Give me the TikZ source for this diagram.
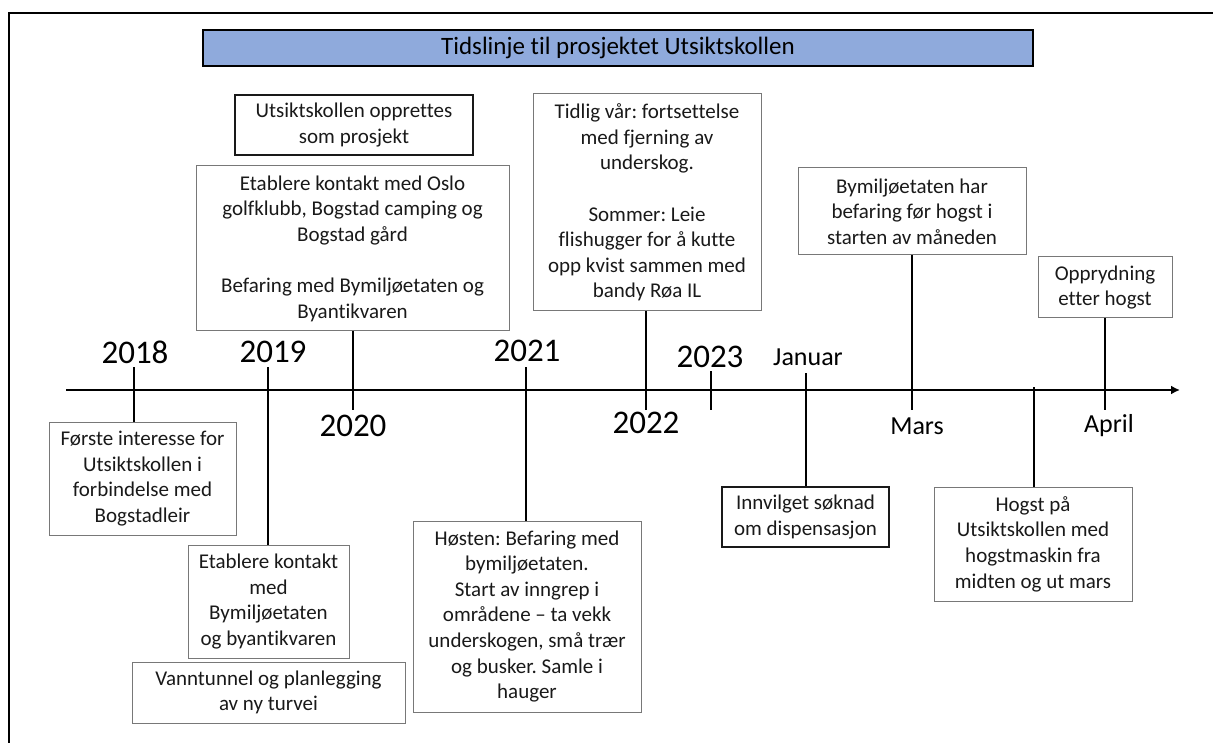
\documentclass[tikz,border=0pt]{standalone}
\usepackage{fontspec}
\setmainfont{Carlito}[Ligatures=NoCommon]
\frenchspacing
\usetikzlibrary{arrows.meta}
\definecolor{titleblue}{RGB}{143,170,220}
\definecolor{boxgray}{RGB}{120,120,120}
\tikzset{
  evbox/.style={draw=boxgray, line width=1pt, align=center, text=black!90, inner sep=0pt,
    font=\fontsize{21}{25.6}\selectfont},
  evboxdark/.style={evbox, draw=black!90, line width=1.5pt},
  yearlabel/.style={inner sep=1pt, font=\fontsize{33}{36}\selectfont},
  monthlabel/.style={inner sep=1pt, font=\fontsize{26}{30}\selectfont},
  tick/.style={line width=2.3pt}
}
\begin{document}
\begin{tikzpicture}[x=1pt, y=-1pt]
\useasboundingbox (0,0) rectangle (1213,743);
\draw[line width=2pt] (9,743) -- (9,13) -- (1213,13);
\node[draw=black, line width=1.5pt, fill=titleblue, minimum width=830pt, minimum height=36pt,
  font=\fontsize{25}{28}\selectfont] (title) at (618,48) {Tidslinje til prosjektet Utsiktskollen};

\coordinate (ax0) at (66,390);
\coordinate (ax1) at (1180,390);
\draw[line width=2.5pt, -{Latex[length=9pt,width=9pt]}] (ax0) -- (ax1);
\coordinate (up) at (0,367);
\coordinate (down) at (0,410);

\node[yearlabel] (y2018) at (135,352) {2018};
\node[yearlabel] (y2019) at (273,352) {2019};
\node[yearlabel] (y2020) at (353,426) {2020};
\node[yearlabel] (y2021) at (527,351) {2021};
\node[yearlabel] (y2022) at (646,423) {2022};
\node[yearlabel] (y2023) at (710,357) {2023};
\node[monthlabel] (januar) at (808,357) {Januar};
\node[monthlabel] (mars) at (917,426) {Mars};
\node[monthlabel] (april) at (1109,426) {April};

\node[evbox, minimum width=187pt, minimum height=113pt] (first) at (142.5,478.5)
  {Første interesse for\\Utsiktskollen i\\forbindelse med\\Bogstadleir};
\node[evbox, minimum width=161pt, minimum height=113pt] (contact19) at (268.5,601.5)
  {Etablere kontakt\\med\\Bymiljøetaten\\og byantikvaren};
\node[evbox, minimum width=273pt, minimum height=61pt] (tunnel) at (268.5,692.5)
  {Vanntunnel og planlegging\\av ny turvei};
\node[evboxdark, minimum width=238pt, minimum height=60pt] (project) at (354,125)
  {Utsiktskollen opprettes\\som prosjekt};
\node[evbox, minimum width=313pt, minimum height=165pt] (contact20) at (352.5,248.5)
  {Etablere kontakt med Oslo\\golfklubb, Bogstad camping og\\Bogstad gård\\[25.6pt]Befaring med Bymiljøetaten og\\Byantikvaren};
\node[evbox, minimum width=228pt, minimum height=191pt] (autumn) at (527,616.5)
  {Høsten: Befaring med\\bymiljøetaten.\\Start av inngrep i\\områdene – ta vekk\\underskogen, små trær\\og busker. Samle i\\hauger};
\node[evbox, minimum width=228pt, minimum height=217pt] (spring) at (647,202.5)
  {Tidlig vår: fortsettelse\\med fjerning av\\underskog.\\[25.6pt]Sommer: Leie\\flishugger for å kutte\\opp kvist sammen med\\bandy Røa IL};
\node[evboxdark, minimum width=167pt, minimum height=60pt] (permit) at (805.5,517)
  {Innvilget søknad\\om dispensasjon};
\node[evbox, minimum width=228pt, minimum height=87pt] (inspect) at (912,211.5)
  {Bymiljøetaten har\\befaring før hogst i\\starten av måneden};
\node[evbox, minimum width=134pt, minimum height=61pt] (cleanup) at (1105,287.5)
  {Opprydning\\etter hogst};
\node[evbox, minimum width=198pt, minimum height=114pt] (logging) at (1033,544)
  {Hogst på\\Utsiktskollen med\\hogstmaskin fra\\midten og ut mars};

\coordinate (t18) at (134,390);
\coordinate (t19) at (268,390);
\coordinate (t20) at (353,390);
\coordinate (t21) at (526,390);
\coordinate (t22) at (646,390);
\coordinate (t23) at (711,390);
\coordinate (tjan) at (806,390);
\coordinate (tmar) at (912,390);
\coordinate (thog) at (1034,387);
\coordinate (tapr) at (1105,390);

\draw[tick] (t18 |- up) -- (t18 |- first.north);
\draw[tick] (t19 |- up) -- (t19 |- contact19.north);
\draw[tick] (t20 |- contact20.south) -- (t20 |- down);
\draw[tick] (t21 |- up) -- (t21 |- autumn.north);
\draw[tick] (t22 |- spring.south) -- (t22 |- down);
\draw[tick] (t23 |- 0,371) -- (t23 |- down);
\draw[tick] (tjan |- 0,373) -- (tjan |- permit.north);
\draw[tick] (tmar |- inspect.south) -- (tmar |- down);
\draw[tick] (thog) -- (thog |- logging.north);
\draw[tick] (tapr |- cleanup.south) -- (tapr |- down);
\end{tikzpicture}
\end{document}
